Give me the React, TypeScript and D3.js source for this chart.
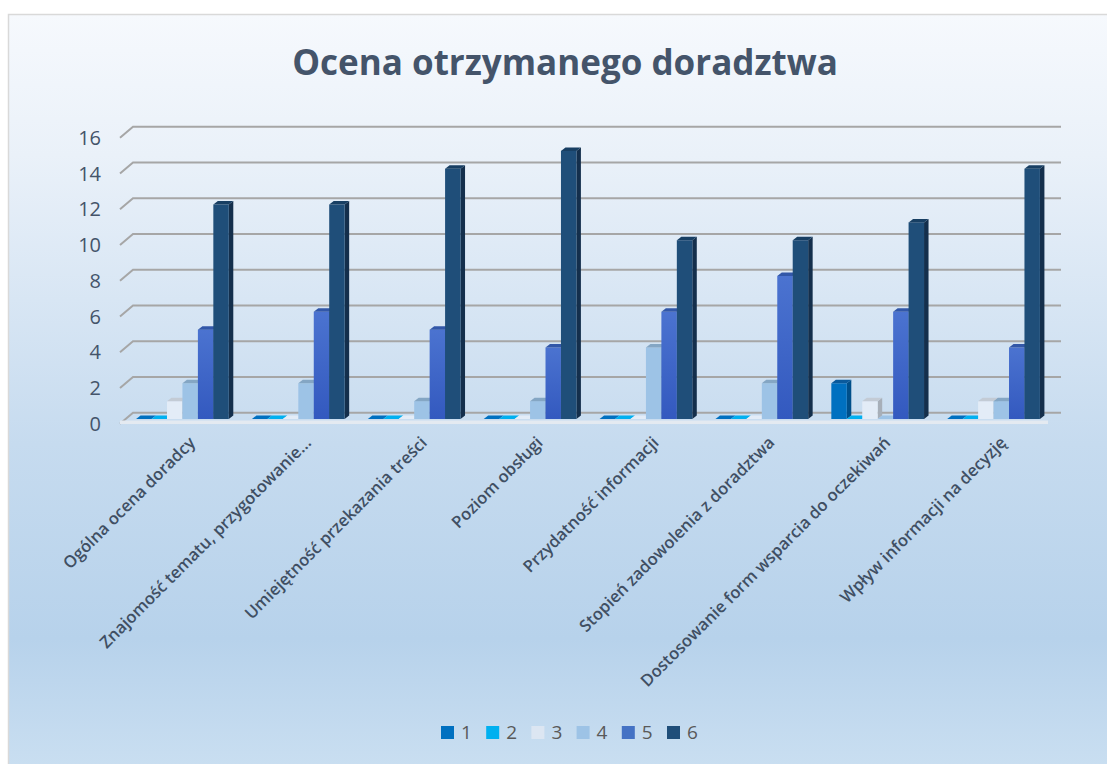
import React from "react";
import * as d3 from "d3";

const categories = [
  "Ogólna ocena doradcy",
  "Znajomość tematu, przygotowanie...",
  "Umiejętność przekazania treści",
  "Poziom obsługi",
  "Przydatność informacji",
  "Stopień zadowolenia z doradztwa",
  "Dostosowanie form wsparcia do oczekiwań",
  "Wpływ informacji na decyzję",
];
const seriesNames = ["1", "2", "3", "4", "5", "6"];
const s1 = [0, 0, 0, 0, 0, 0, 2, 0];
const s2 = [0, 0, 0, 0, 0, 0, 0, 0];
const s3 = [1, 0, 0, 0, 0, 0, 1, 1];
const s4 = [2, 2, 1, 1, 4, 2, 0, 1];
const s5 = [5, 6, 5, 4, 6, 8, 6, 4];
const s6 = [12, 12, 14, 15, 10, 10, 11, 14];
const seriesValues = [s1, s2, s3, s4, s5, s6];
const yTicks = [0, 2, 4, 6, 8, 10, 12, 14, 16];

const front = ["#0070c0", "#00b0f0", "#e3ecf7", "#9dc3e6", "url(#g5)", "#1f4e79"];
const topC = ["#0a5a9c", "#0a98cc", "#c3cbd5", "#84a6c4", "#3257a8", "#183f63"];
const sideC = ["#004f8a", "#0086b8", "#a7afb9", "#7796b2", "#2a4c99", "#142f4c"];
const legendC = ["#0070c0", "#00b0f0", "#dce6f2", "#9dc3e6", "#4472c4", "#1f4e79"];

export default function App() {
  // back wall geometry
  const yBack = d3.scaleLinear().domain([0, 16]).range([412.7, 126.7]);
  const depthDx = 13;
  const depthDy = 11;
  const backX0 = 133;
  const backX1 = 1061;
  // bar plane
  const yBar = d3.scaleLinear().domain([0, 16]).range([419, 133]);
  const xBand = d3
    .scaleBand<string>()
    .domain(categories)
    .range([124.5, 1051.5])
    .paddingInner(0)
    .paddingOuter(0);
  const inner = d3
    .scaleBand<string>()
    .domain(seriesNames)
    .range([0, xBand.bandwidth()])
    .paddingOuter(0.75)
    .paddingInner(0);
  const bw = inner.bandwidth();
  const bdx = 4.5;
  const bdy = 3.5;

  const fontFam = "'Open Sans', 'Noto Sans', sans-serif";

  return (
    <svg
      width={1107}
      height={764}
      style={{ position: "absolute", left: 0, top: 0, display: "block" }}
    >
      <defs>
        <linearGradient id="bg" x1="0" y1="0" x2="0" y2="1">
          <stop offset="0" stopColor="#f6f9fd" />
          <stop offset="0.18" stopColor="#eaf1f9" />
          <stop offset="0.55" stopColor="#c6dbef" />
          <stop offset="0.8" stopColor="#b7d2eb" />
          <stop offset="1" stopColor="#cde1f2" />
        </linearGradient>
        <linearGradient id="g5" x1="0" y1="0" x2="0" y2="1">
          <stop offset="0" stopColor="#4b73d0" />
          <stop offset="1" stopColor="#3359bf" />
        </linearGradient>
      </defs>
      <rect x={0} y={0} width={1107} height={764} fill="#ffffff" />
      <rect x={8.5} y={14.5} width={1120} height={780} fill="url(#bg)" stroke="#d9d9d9" strokeWidth={1.5} />

      <text
        x={565}
        y={75}
        textAnchor="middle"
        fontFamily={fontFam}
        fontWeight={700}
        fontSize={35}
        fill="#44546a"
      >
        Ocena otrzymanego doradztwa
      </text>

      {/* gridlines */}
      {yTicks.map((t) => {
        const yb = yBack(t);
        return (
          <g key={"g" + t}>
            <path
              d={`M${backX0 - depthDx},${yb + depthDy}L${backX0},${yb}L${backX1},${yb}`}
              fill="none"
              stroke="#a6a6a6"
              strokeWidth={2}
            />
            <text
              x={101}
              y={yb + depthDy}
              dy="0.36em"
              textAnchor="end"
              fontFamily={fontFam}
              fontSize={20}
              fill="#44546a"
            >
              {t}
            </text>
          </g>
        );
      })}

      {/* floor edge */}
      <rect x={120} y={420.5} width={928} height={3.5} fill="#e4eaf1" />

      {/* bars */}
      {categories.map((c, ci) => (
        <g key={"c" + ci}>
          {seriesValues.map((vals, si) => {
            const v = vals[ci];
            const x = (xBand(c) as number) + (inner(seriesNames[si]) as number);
            const yt = yBar(v);
            const y0 = yBar(0);
            const topPath = `M${x},${yt}L${x + bdx},${yt - bdy}L${x + bw + bdx},${yt - bdy}L${x + bw},${yt}Z`;
            const sidePath = `M${x + bw},${yt}L${x + bw + bdx},${yt - bdy}L${x + bw + bdx},${y0 - bdy}L${x + bw},${y0}Z`;
            return (
              <g key={"b" + si}>
                <path d={sidePath} fill={sideC[si]} />
                {v > 0 && <rect x={x} y={yt} width={bw} height={y0 - yt} fill={front[si]} />}
                <path d={topPath} fill={v > 0 ? topC[si] : front[si]} />
              </g>
            );
          })}
        </g>
      ))}

      {/* category labels */}
      {categories.map((c) => {
        const cx = (xBand(c) as number) + xBand.bandwidth() / 2;
        return (
          <text
            key={"l" + c}
            transform={`translate(${cx + 5},${435}) rotate(-45)`}
            textAnchor="end"
            dy="0.75em"
            fontFamily={fontFam}
            fontSize={16.6}
            fontWeight={600}
            fill="#404f63"
          >
            {c}
          </text>
        );
      })}

      {/* legend */}
      {seriesNames.map((s, i) => {
        const lx = 441 + i * 45.2;
        return (
          <g key={"lg" + s}>
            <rect x={lx} y={726} width={13} height={13} fill={legendC[i]} />
            <text
              x={lx + 20}
              y={732.5}
              dy="0.36em"
              fontFamily={fontFam}
              fontSize={19}
              fill="#595959"
            >
              {s}
            </text>
          </g>
        );
      })}
    </svg>
  );
}
